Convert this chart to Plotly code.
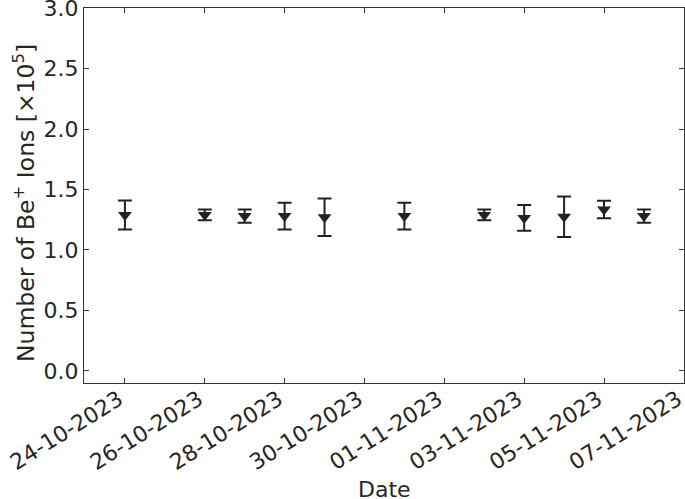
import plotly.graph_objects as go

# --- DATA ---
dates = ["2023-10-24", "2023-10-26", "2023-10-27", "2023-10-28", "2023-10-29",
         "2023-10-31", "2023-11-02", "2023-11-03", "2023-11-04", "2023-11-05",
         "2023-11-06"]
ions = [1.29, 1.29, 1.28, 1.28, 1.27, 1.28, 1.29, 1.265, 1.275, 1.335, 1.28]  # x1e5
ions_err = [0.12, 0.045, 0.055, 0.11, 0.155, 0.11, 0.045, 0.107, 0.168, 0.072, 0.055]

tick_dates = ["2023-10-24", "2023-10-26", "2023-10-28", "2023-10-30",
              "2023-11-01", "2023-11-03", "2023-11-05", "2023-11-07"]
tick_text = ["24-10-2023", "26-10-2023", "28-10-2023", "30-10-2023",
             "01-11-2023", "03-11-2023", "05-11-2023", "07-11-2023"]
y_ticks = [0.0, 0.5, 1.0, 1.5, 2.0, 2.5, 3.0]

INK = "#222222"
TXT = "#262626"
FS = 22

fig = go.Figure()
fig.add_trace(go.Scatter(
    x=dates, y=ions,
    mode="markers",
    marker=dict(symbol="triangle-down", size=12, color=INK),
    error_y=dict(type="data", array=ions_err, color=INK, thickness=2, width=7),
    showlegend=False,
))

axis_common = dict(
    showline=True, linecolor="#333333", linewidth=1.3, mirror="ticks",
    ticks="inside", ticklen=5, tickwidth=1, tickcolor="#333333",
    showgrid=False, zeroline=False, automargin=False,
    ticklabeloverflow="allow",
    tickfont=dict(size=FS, color=TXT),
)

fig.update_xaxes(
    type="date",
    range=["2023-10-22T23:24", "2023-11-07T00:05"],
    tickmode="array", tickvals=tick_dates, ticktext=tick_text,
    tickangle=-32, ticklabelshift=-6, ticklabelstandoff=-6,
    **axis_common,
)
fig.update_yaxes(
    range=[-0.1, 3.001],
    tickmode="array", tickvals=y_ticks, ticktext=[f"{v:.1f}" for v in y_ticks],
    **axis_common,
)

# axis titles as annotations (standoff is ignored with automargin off)
fig.add_annotation(text="Date", xref="paper", yref="paper",
                   x=0.5, y=-0.285, xanchor="center", yanchor="middle",
                   showarrow=False, font=dict(size=FS, color=TXT))
fig.add_annotation(text="Number of Be<sup>+</sup> Ions [×10<sup>5</sup>]",
                   xref="paper", yref="paper", x=-0.1, y=0.48,
                   xanchor="center", yanchor="middle", textangle=-90,
                   showarrow=False, font=dict(size=23.5, color=TXT))

fig.update_layout(
    width=685, height=499,
    margin=dict(l=84, r=1, t=8, b=116),
    plot_bgcolor="white", paper_bgcolor="white",
    font=dict(family="DejaVu Sans", color=TXT),
)

# drop the default page margin so the figure fills the window exactly
fig.write_html("out.html",
               config={"displayModeBar": False},
               post_script="document.body.style.margin='0';"
                           "document.body.style.overflow='hidden';")
